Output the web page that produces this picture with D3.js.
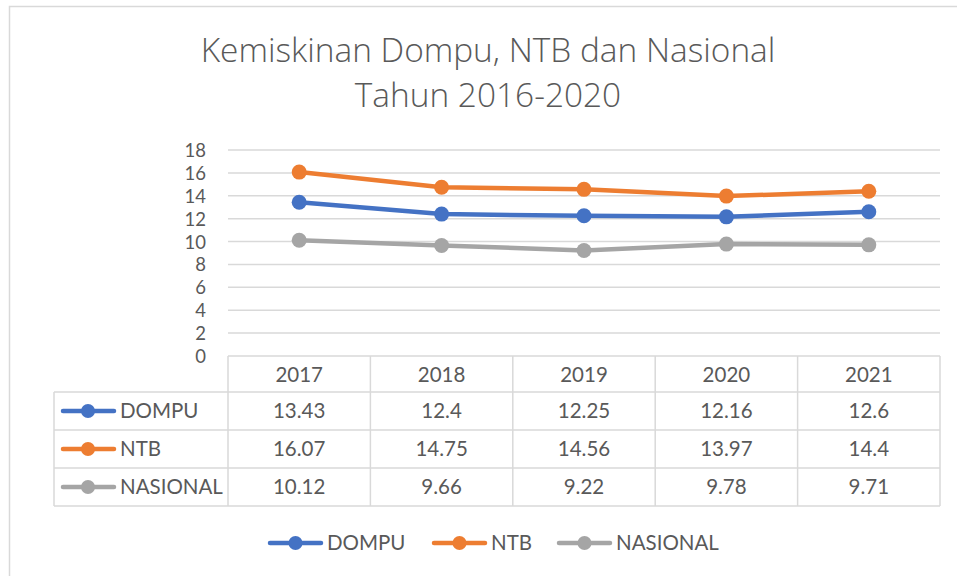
<!DOCTYPE html>
<html>
<head>
<meta charset="utf-8">
<script src="https://cdn.jsdelivr.net/npm/d3@7"></script>
<style>
  html, body { margin: 0; padding: 0; background: #fff; }
  svg { display: block; }
  text { font-family: Lato, "Open Sans", sans-serif; fill: #595959; }
  text.title { font-family: "Open Sans", "Noto Sans", sans-serif; }
</style>
</head>
<body>
<svg id="chart" width="957" height="576"></svg>
<script>
// ---- data ----
const titleLines = ["Kemiskinan Dompu, NTB dan Nasional", "Tahun 2016-2020"];
const years = ["2017", "2018", "2019", "2020", "2021"];
const seriesNames = ["DOMPU", "NTB", "NASIONAL"];
const dompu = [13.43, 12.4, 12.25, 12.16, 12.6];
const ntb = [16.07, 14.75, 14.56, 13.97, 14.4];
const nasional = [10.12, 9.66, 9.22, 9.78, 9.71];
const seriesColors = ["#4472C4", "#ED7D31", "#A5A5A5"];
const yTicks = [0, 2, 4, 6, 8, 10, 12, 14, 16, 18];

const series = seriesNames.map((name, i) => ({
  name, color: seriesColors[i], values: [dompu, ntb, nasional][i]
}));

const svg = d3.select("#chart");
const gridColor = "#D9D9D9";
const labelSize = 20.5;

// outer chart border
svg.append("rect").attr("x", 9.5).attr("y", 6.5).attr("width", 960).attr("height", 580)
  .attr("fill", "none").attr("stroke", gridColor).attr("stroke-width", 1.5);

// title
const titleG = svg.append("g");
const titleBaselines = [62, 107];
titleLines.forEach((t, i) => {
  titleG.append("text").attr("class", "title").attr("x", 488).attr("y", titleBaselines[i])
    .attr("text-anchor", "middle").attr("font-size", 30).attr("font-weight", 300)
    .text(t);
});
// fit title width
const t0 = titleG.select("text").node();
const w0 = t0.getComputedTextLength();
const fs = 30 * 575 / w0;
titleG.selectAll("text").attr("font-size", fs);

// scales
const x = d3.scaleBand().domain(years).range([228, 940]).padding(0);
const y = d3.scaleLinear().domain([0, 18]).range([356, 150]);

// gridlines
svg.append("g").selectAll("line").data(yTicks.filter(d => d > 0)).join("line")
  .attr("x1", 228).attr("x2", 940)
  .attr("y1", d => y(d)).attr("y2", d => y(d))
  .attr("stroke", gridColor).attr("stroke-width", 1.5);

// y axis labels
const yAxis = d3.axisLeft(y).tickValues(yTicks).tickSize(0).tickPadding(0);
const yg = svg.append("g").attr("transform", "translate(206,0)").call(yAxis);
yg.select(".domain").remove();
yg.selectAll("text").attr("font-size", 18.5).attr("fill", "#595959")
  .style("font-family", "Lato, 'Open Sans', sans-serif").attr("dy", "0.35em");

// lines
const line = d3.line().x((d, i) => x(years[i]) + x.bandwidth() / 2).y(d => y(d));
series.forEach(s => {
  svg.append("path").datum(s.values).attr("d", line)
    .attr("fill", "none").attr("stroke", s.color).attr("stroke-width", 4.5)
    .attr("stroke-linejoin", "round").attr("stroke-linecap", "round");
  svg.append("g").selectAll("circle").data(s.values).join("circle")
    .attr("cx", (d, i) => x(years[i]) + x.bandwidth() / 2)
    .attr("cy", d => y(d)).attr("r", 7.5).attr("fill", s.color);
});

// data table
const rowTops = [356, 392, 430, 468, 506];
const tableLeft = 54;
const tg = svg.append("g");
tg.append("line").attr("x1", 228).attr("x2", 940).attr("y1", rowTops[0]).attr("y2", rowTops[0]);
rowTops.slice(1).forEach(ry => {
  tg.append("line").attr("x1", tableLeft).attr("x2", 940).attr("y1", ry).attr("y2", ry);
});
tg.append("line").attr("x1", tableLeft).attr("x2", tableLeft).attr("y1", rowTops[1]).attr("y2", rowTops[4]);
years.forEach(yr => {
  tg.append("line").attr("x1", x(yr)).attr("x2", x(yr)).attr("y1", rowTops[0]).attr("y2", rowTops[4]);
});
tg.append("line").attr("x1", 940).attr("x2", 940).attr("y1", rowTops[0]).attr("y2", rowTops[4]);
tg.selectAll("line").attr("stroke", gridColor).attr("stroke-width", 1.5);

// header
years.forEach(yr => {
  tg.append("text").attr("x", x(yr) + x.bandwidth() / 2).attr("y", (rowTops[0] + rowTops[1]) / 2 + 1)
    .attr("dy", "0.35em").attr("text-anchor", "middle").attr("font-size", labelSize).text(yr);
});
// rows
series.forEach((s, r) => {
  const cy = (rowTops[r + 1] + rowTops[r + 2]) / 2;
  tg.append("line").attr("x1", 63).attr("x2", 114).attr("y1", cy).attr("y2", cy)
    .attr("stroke", s.color).attr("stroke-width", 4.5).attr("stroke-linecap", "round");
  tg.append("circle").attr("cx", 88).attr("cy", cy).attr("r", 7).attr("fill", s.color);
  tg.append("text").attr("x", 120).attr("y", cy).attr("dy", "0.35em")
    .attr("font-size", labelSize).text(s.name);
  s.values.forEach((v, i) => {
    tg.append("text").attr("x", x(years[i]) + x.bandwidth() / 2).attr("y", cy)
      .attr("dy", "0.35em").attr("text-anchor", "middle").attr("font-size", labelSize).text(v);
  });
});

// legend
const legendX = [268, 432, 557];
const legY = 543;
series.forEach((s, i) => {
  const lx = legendX[i];
  svg.append("line").attr("x1", lx + 2).attr("x2", lx + 53).attr("y1", legY).attr("y2", legY)
    .attr("stroke", s.color).attr("stroke-width", 4.5).attr("stroke-linecap", "round");
  svg.append("circle").attr("cx", lx + 27.5).attr("cy", legY).attr("r", 7).attr("fill", s.color);
  svg.append("text").attr("x", lx + 59).attr("y", legY).attr("dy", "0.35em")
    .attr("font-size", labelSize).text(s.name);
});
</script>
</body>
</html>
